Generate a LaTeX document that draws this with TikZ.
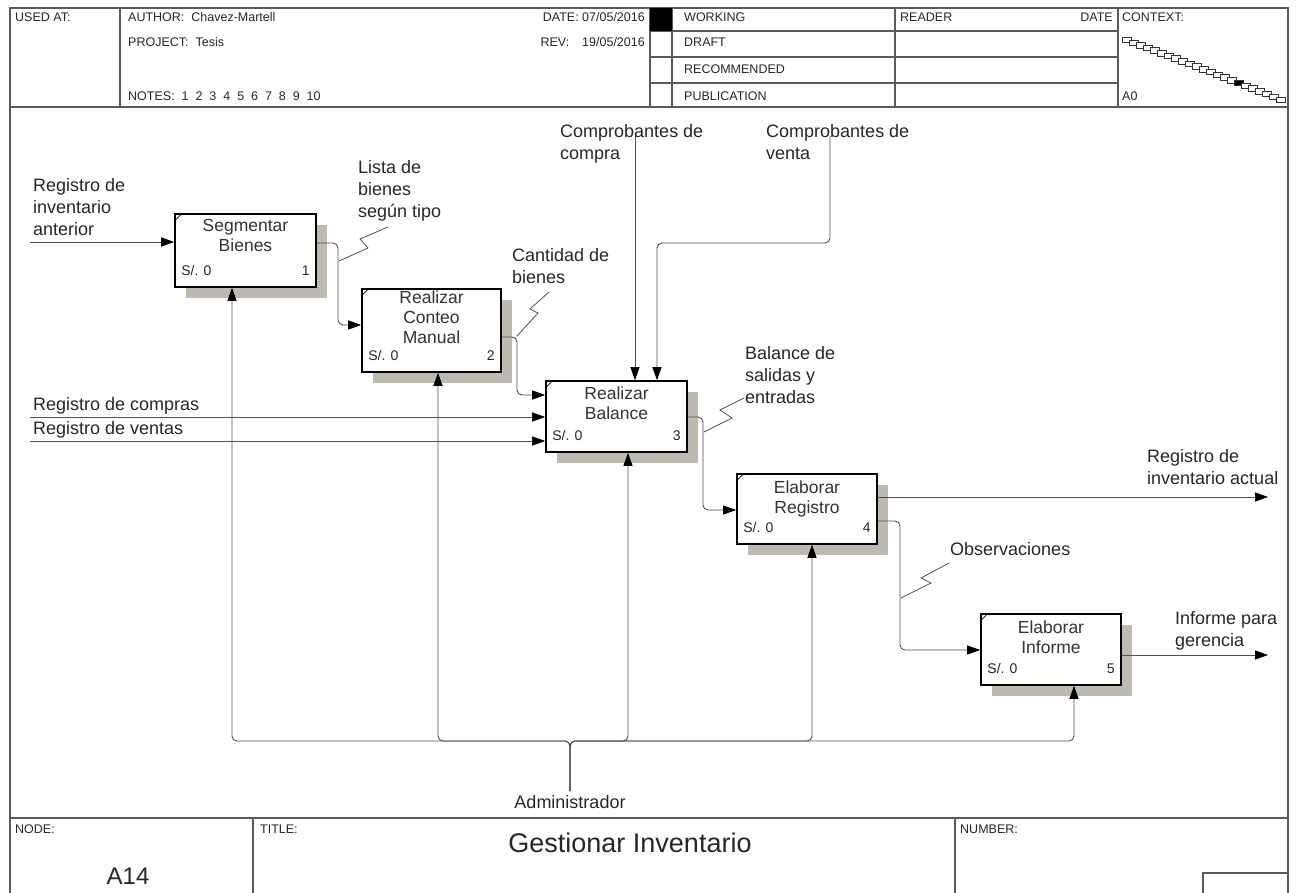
\documentclass[tikz,border=0pt]{standalone}
\usepackage{fontspec}
\setmainfont{Liberation Sans}
\usetikzlibrary{arrows.meta,shadows,calc}
\definecolor{wire}{HTML}{505050}
\definecolor{shade}{HTML}{BDBAB2}
\definecolor{frameline}{HTML}{5A5A5A}
\begin{document}
\begin{tikzpicture}[x=1pt,y=-1pt,
  frm/.style={draw=frameline, line width=1.1pt},
  hdr/.style={anchor=base west, inner sep=0pt, font=\fontsize{12.5}{13}\selectfont, text=black!85},
  lbl/.style={anchor=north west, inner sep=0pt, align=left, font=\fontsize{18}{22}\selectfont, text=black!85},
  act/.style={draw=black, line width=1.6pt, fill=white, minimum width=140pt,
    minimum height=71pt, inner sep=0pt,
    drop shadow={shadow xshift=11pt, shadow yshift=-11pt, fill=shade, opacity=1}},
  acttxt/.style={anchor=north, inner sep=0pt, align=center, font=\fontsize{17.5}{20}\selectfont, text=black!80},
  cost/.style={inner sep=0pt, font=\fontsize{14}{14}\selectfont, text=black!85},
  flow/.style={draw=wire, line width=0.9pt, rounded corners=5pt,
    -{Triangle[length=13pt,width=9pt,color=black]}},
  leader/.style={draw=wire, line width=0.8pt},
  cbox/.style={draw=black!80, line width=0.6pt, fill=white}]
\useasboundingbox (0,0) rectangle (1298,893);

% ---- outer frame and header grid ----
\draw[frm] (10,893) -- (10,8) -- (1288,8) -- (1288,893);
\draw[frm] (10,107) -- (1288,107);
\draw[frm] (10,818) -- (1288,818);
\foreach \x in {120,650,672,895,1118} \draw[frm] (\x,8) -- (\x,107);
\foreach \y in {31,57,83} \draw[frm] (650,\y) -- (1118,\y);
\fill[black] (650,8) rectangle (672,31);

\node[hdr] (usedat) at (15,21.5) {USED AT:};
\node[hdr] (author) at (128,21.5) {AUTHOR:\ \ Chavez-Martell};
\node[hdr] (project) at (128,47) {PROJECT:\ \ Tesis};
\node[hdr] (notes) at (128,100.5) {NOTES:\ \ 1\ \ 2\ \ 3\ \ 4\ \ 5\ \ 6\ \ 7\ \ 8\ \ 9\ \ 10};
\node[hdr, anchor=base east] (date) at (645,21.5) {DATE:\ 07/05/2016};
\node[hdr, anchor=base east] (rev) at (645,47) {REV:\hspace{13pt}19/05/2016};
\node[hdr] (working) at (684,21.5) {WORKING};
\node[hdr] (draft) at (684,47) {DRAFT};
\node[hdr] (recom) at (684,74) {RECOMMENDED};
\node[hdr] (publ) at (684,100.5) {PUBLICATION};
\node[hdr] (reader) at (900,21.5) {READER};
\node[hdr, anchor=base east] (rdate) at (1113,21.5) {DATE};
\node[hdr] (context) at (1122,21.5) {CONTEXT:};
\node[hdr] (ctxnode) at (1122,100.5) {A0};

% context chain of diagram pages
\foreach \i in {0,...,22} {
  \pgfmathsetmacro\cx{1127+\i*7.0}
  \pgfmathsetmacro\cy{40+\i*2.6+0.005*\i*\i}
  \ifnum\i=16
    \draw[cbox, fill=black] (\cx-4.5,\cy-2.8) rectangle (\cx+4.5,\cy+2.8);
  \else
    \draw[cbox] (\cx-4.5,\cy-2.8) rectangle (\cx+4.5,\cy+2.8);
  \fi
}

% ---- footer ----
\draw[frm] (253,818) -- (253,893);
\draw[frm] (955,818) -- (955,893);
\draw[frm] (1203,893) -- (1203,873) -- (1288,873);
\node[hdr] (nodelbl) at (15,833) {NODE:};
\node[hdr] (titlelbl) at (260,833) {TITLE:};
\node[hdr] (numlbl) at (960,833) {NUMBER:};
\node[anchor=base, inner sep=0pt, font=\fontsize{27}{27}\selectfont, text=black!85] (title) at (630,852) {Gestionar Inventario};
\node[anchor=base, inner sep=0pt, font=\fontsize{24}{24}\selectfont, text=black!85] (nodeno) at (128,884) {A14};

% ---- activities ----
\node[act, minimum width=141pt, minimum height=73pt] (b1) at (245.5,250.5) {};
\node[act, minimum width=139pt, minimum height=83pt] (b2) at (431.5,330.5) {};
\node[act, minimum width=141pt, minimum height=71pt] (b3) at (616.5,416.5) {};
\node[act, minimum width=140pt, minimum height=70pt] (b4) at (807,509) {};
\node[act, minimum width=140pt, minimum height=71pt] (b5) at (1051,649.5) {};

\node[acttxt] at ([yshift=-6pt]b1.north) {Segmentar\\Bienes};
\node[acttxt] at ([yshift=-2pt]b2.north) {Realizar\\Conteo\\Manual};
\node[acttxt] at ([yshift=-6pt]b3.north) {Realizar\\Balance};
\node[acttxt] at ([yshift=-7pt]b4.north) {Elaborar\\Registro};
\node[acttxt] at ([yshift=-7pt]b5.north) {Elaborar\\Informe};

\foreach \b/\n in {b1/1,b2/2,b3/3,b4/4,b5/5} {
  \draw[line width=0.8pt] ([yshift=-8pt]\b.north west) -- ([xshift=8pt]\b.north west);
  \node[cost, anchor=base west] at ([xshift=7pt,yshift=12pt]\b.south west) {S/. 0};
  \node[cost, anchor=base east] at ([xshift=-7pt,yshift=12pt]\b.south east) {\n};
}

% ---- labels ----
\node[lbl] (linv) at (33,178) {Registro de\\inventario\\anterior};
\node[lbl] (llista) at (358,160) {Lista de\\bienes\\según tipo};
\node[lbl] (lcant) at (512,248) {Cantidad de\\bienes};
\node[lbl] (lcc) at (560,124) {Comprobantes de\\compra};
\node[lbl] (lcv) at (766,124) {Comprobantes de\\venta};
\node[lbl] (lbal) at (745,346) {Balance de\\salidas y\\entradas};
\node[lbl] (lrc) at (33,397) {Registro de compras};
\node[lbl] (lrv) at (33,421) {Registro de ventas};
\node[lbl] (lria) at (1147,449) {Registro de\\inventario actual};
\node[lbl] (lobs) at (950,542) {Observaciones};
\node[lbl] (linf) at (1175,611) {Informe para\\gerencia};
\node[lbl, anchor=north] (ladm) at (570,795) {Administrador};

% ---- free ends ----
\coordinate (in1) at (30,242);
\coordinate (inc) at (30,417);
\coordinate (inv) at (30,441);
\coordinate (ccompra) at (635,136);
\coordinate (cventa) at (830,136);
\coordinate (out4) at (1268,497);
\coordinate (out5) at (1268,655);
\coordinate (mech) at (570,791);

% ---- connectors ----
\draw[flow] (in1) -- (in1 -| b1.west);
\draw[flow] (b1.east |- 0,243) -- (338,243) -- (338,325) -- (b2.west |- 0,325);
\draw[flow] (b2.east |- 0,337) -- (517,337) -- (517,395) -- (b3.west |- 0,395);
\draw[flow] (inc) -- (inc -| b3.west);
\draw[flow] (inv) -- (inv -| b3.west);
\draw[flow] (ccompra) -- (ccompra |- b3.north);
\draw[flow] (cventa) -- (830,243) -- (657,243) -- (657,0 |- b3.north);
\draw[flow] (b3.east |- 0,417) -- (703,417) -- (703,510) -- (b4.west |- 0,510);
\draw[flow] (b4.east |- out4) -- (out4);
\draw[flow] (b4.east |- 0,521) -- (900,521) -- (900,650) -- (b5.west |- 0,650);
\draw[flow] (b5.east |- out5) -- (out5);

\foreach \b/\x in {b1/232,b2/438,b3/628,b4/812,b5/1074}
  \draw[flow] (mech) -- (570,741) -- (\x,741) -- (\x,0 |- \b.south);

% ---- label leaders ----
\draw[leader] (339,261) -- (368,248) -- (360,239) -- (388,227);
\draw[leader] (517,336) -- (538,313) -- (530,309) -- (549,292);
\draw[leader] (704,432) -- (732,418) -- (720,410) -- (744,398);
\draw[leader] (901,598) -- (931,583) -- (921,578) -- (949,563);
\end{tikzpicture}
\end{document}
